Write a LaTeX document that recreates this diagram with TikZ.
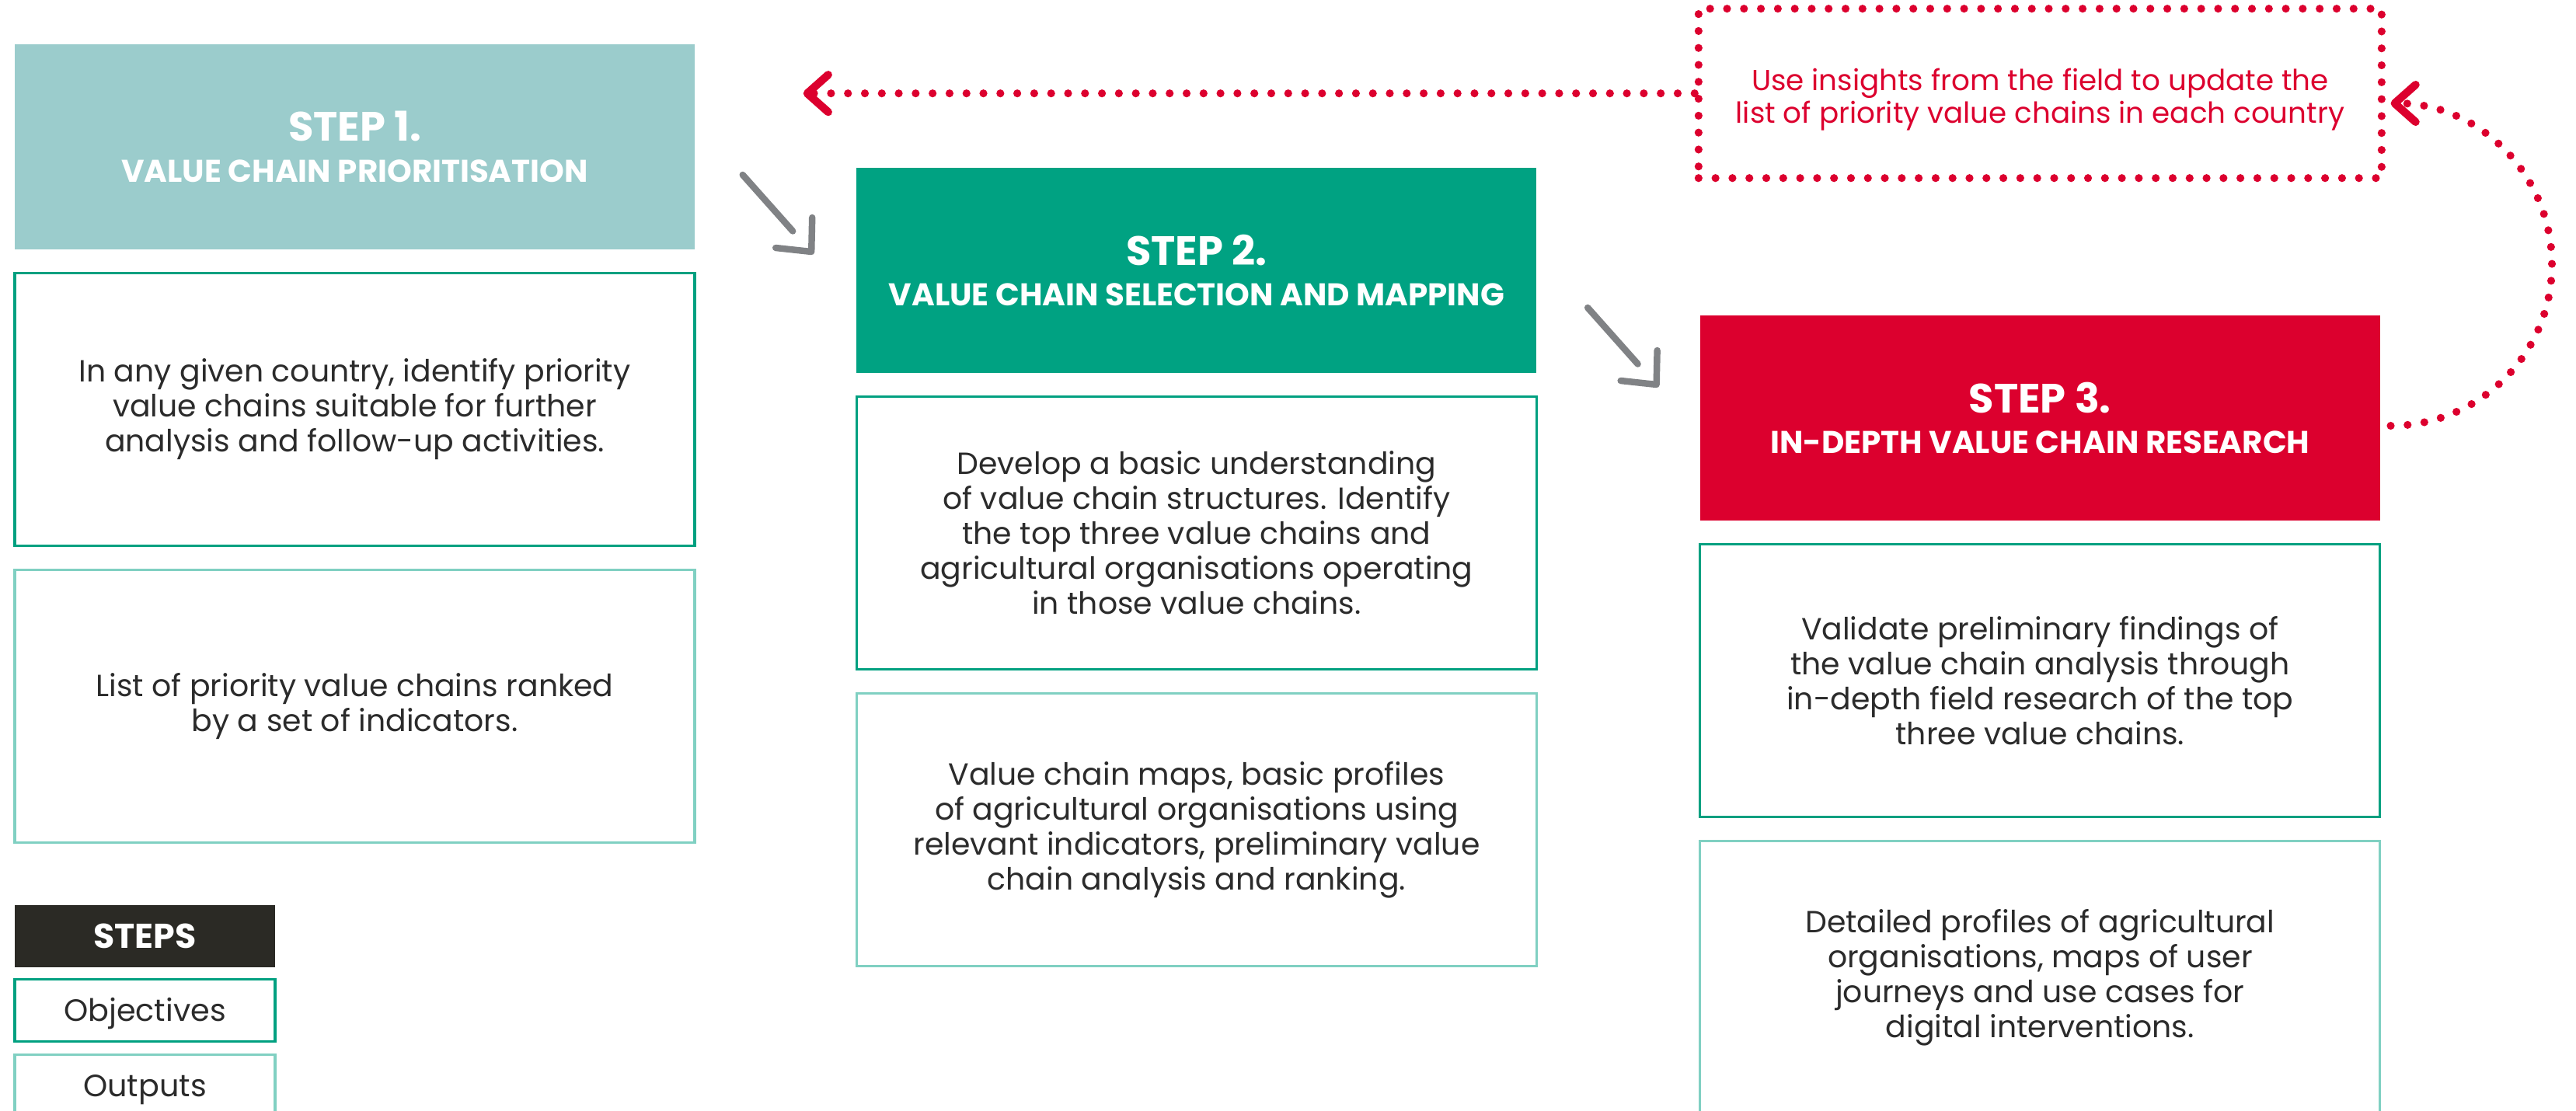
\documentclass[tikz,border=0pt]{standalone}
\usepackage{fontspec}
\setmainfont{Poppins}
\usepackage{tikz}
\usetikzlibrary{positioning,arrows.meta}
\definecolor{tealpale}{HTML}{9BCCCC}
\definecolor{tealstep}{HTML}{00A282}
\definecolor{redstep}{HTML}{DC002E}
\definecolor{objline}{HTML}{00A080}
\definecolor{outedge}{HTML}{80D0C2}
\definecolor{ink}{HTML}{2B2B2B}
\definecolor{legendbg}{HTML}{2B2A25}
\definecolor{arrowgray}{HTML}{808285}
\newcommand{\bodyfont}{\fontsize{11.2}{12.8}\selectfont}
\newcommand{\headbig}{\fontsize{15}{15}\selectfont}
\newcommand{\headsmall}{\fontsize{11.5}{15}\selectfont}

\begin{document}
\begin{tikzpicture}[
    node distance=2.8mm and 20.7mm,
    head/.style={minimum width=8.75cm, minimum height=2.64cm, align=center, text=white, inner sep=0pt, font=\bfseries\headsmall},
    objbox/.style={draw=objline, line width=0.9pt, fill=white, minimum width=8.75cm, minimum height=3.51cm, align=center, text=ink, font=\bodyfont},
    outbox/.style={objbox, draw=outedge},
    legbox/.style={minimum width=3.35cm, minimum height=0.8cm, inner sep=0pt, text height=7.9pt, text depth=0pt, font=\fontsize{11.3}{12}\selectfont},
    dotline/.style={draw=redstep, line width=2.9pt, line cap=round, dash pattern=on 0pt off 6.2pt},
    backarr/.style={dotline, -{Straight Barb[length=2.7mm, width=4.8mm, round]}},
    grayline/.style={draw=arrowgray, line width=2.4pt, line cap=round, line join=round},
    bendarrow/.pic={
        \draw[grayline] (0,0) -- (0.645,-0.725);
        \draw[grayline] (0.895,-0.55) -- (0.885,-0.99) -- (0.425,-0.94);
    }
]
    \useasboundingbox (0,0) rectangle (33.15,-14.29);
    \clip (0,0) rectangle (33.15,-14.29);

    % Step 1
    \node[head, fill=tealpale] (s1head) at (4.565,-1.89) {{\headbig STEP 1.}\\VALUE CHAIN PRIORITISATION};
    \node[objbox, below=of s1head] (s1obj) {In any given country, identify priority\\value chains suitable for further\\analysis and follow-up activities.};
    \node[outbox, below=of s1obj] (s1out) {List of priority value chains ranked\\by a set of indicators.};

    % Step 2
    \node[head, fill=tealstep, right=of s1head, yshift=-15.9mm] (s2head) {{\headbig STEP 2.}\\VALUE CHAIN SELECTION AND MAPPING};
    \node[objbox, below=of s2head] (s2obj) {Develop a basic understanding\\of value chain structures. Identify\\the top three value chains and\\agricultural organisations operating\\in those value chains.};
    \node[outbox, below=of s2obj] (s2out) {Value chain maps, basic profiles\\of agricultural organisations using\\relevant indicators, preliminary value\\chain analysis and ranking.};

    % Step 3
    \node[head, fill=redstep, right=20.9mm of s2head, yshift=-19mm] (s3head) {{\headbig STEP 3.}\\IN-DEPTH VALUE CHAIN RESEARCH};
    \node[objbox, below=of s3head] (s3obj) {Validate preliminary findings of\\the value chain analysis through\\in-depth field research of the top\\three value chains.};
    \node[outbox, below=of s3obj] (s3out) {Detailed profiles of agricultural\\organisations, maps of user\\journeys and use cases for\\digital interventions.};

    % Legend
    \node[legbox, fill=legendbg, text=white, text height=8.8pt, font=\bfseries\fontsize{12.6}{13}\selectfont] (lsteps) at (1.865,-12.05) {STEPS};
    \node[legbox, draw=objline, line width=0.9pt, text=ink, below=1.3mm of lsteps] (lobj) {Objectives};
    \node[legbox, draw=outedge, line width=0.9pt, text=ink, below=1.4mm of lobj] (lout) {Outputs};

    % Step arrows
    \pic at ([xshift=6.1mm, yshift=-3.6mm]s1head.east) {bendarrow};
    \pic at ([xshift=6.5mm, yshift=-4.8mm]s2head.east) {bendarrow};

    % Feedback loop
    \node[dotline, minimum width=8.79cm, minimum height=2.18cm, above=17.1mm of s3head] (notebox) {};
    \node[align=center, text=redstep, font=\fontsize{10.6}{12}\selectfont, yshift=-0.8mm] (notetext) at (notebox) {Use insights from the field to update the\\list of priority value chains in each country};
    \coordinate (back) at ([xshift=-114.7mm]notebox.west);
    \draw[backarr] (notebox.west) -- (back);
    \draw[backarr] ([xshift=1.3mm, yshift=-1mm]s3head.east) arc[start angle=-90, end angle=90, radius=2.075cm];
\end{tikzpicture}
\end{document}
